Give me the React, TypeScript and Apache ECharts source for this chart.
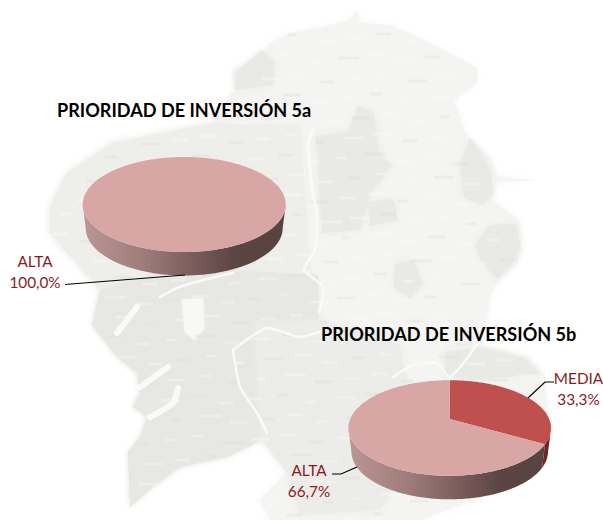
import React, { useEffect, useRef } from "react";
import * as echarts from "echarts";

const titleA = "PRIORIDAD DE INVERSIÓN 5a";
const titleB = "PRIORIDAD DE INVERSIÓN 5b";
const categoriesA = ["ALTA"];
const valuesA = [100.0];
const categoriesB = ["MEDIA", "ALTA"];
const valuesB = [33.3, 66.7];

const SANS = "Lato, 'Open Sans', sans-serif";
const TOP_A = "#d7a6a5";
const TOP_B = "#c0504d";
const TEXT = "#8b1a1c";

type Pt = [number, number];
type Lbl = { at: Pt; line: Pt[] };
type PieLayout = {
  cx: number; cy: number; rx: number; ry: number; depth: number; shrink: number; k: number;
  colors: string[]; sides: (string | null)[]; labels: Lbl[];
};

const layoutA: PieLayout = {
  cx: 184.2, cy: 204.5, rx: 101.5, ry: 47.5, depth: 23.5, shrink: 3, k: -0.19,
  colors: [TOP_A], sides: [null],
  labels: [{ at: [35, 271], line: [[65, 284.5], [185, 275]] }],
};
const layoutB: PieLayout = {
  cx: 449.7, cy: 428, rx: 101.3, ry: 47.8, depth: 23.5, shrink: 3, k: -0.19,
  colors: [TOP_B, TOP_A], sides: ["#6e2423", null],
  labels: [
    { at: [578.5, 388.5], line: [[554, 382], [545, 382], [528, 398]] },
    { at: [309, 480.5], line: [[332, 474], [341, 474], [357, 467]] },
  ],
};

function pieSeries(cats: string[], vals: number[], L: PieLayout) {
  const total = vals.reduce((a, b) => a + b, 0);
  const project = (deg: number) => {
    const a = (deg * Math.PI) / 180;
    const u = Math.sin(a);
    const v = -Math.cos(a);
    const d = 1 + L.k * v;
    return { x: (u * Math.sqrt(1 - L.k * L.k)) / d, y: (v + L.k) / d };
  };
  return {
    type: "custom",
    coordinateSystem: "none",
    silent: true,
    data: vals,
    renderItem: (params: any, api: any) => {
      const i = params.dataIndex;
      const val = api.value(0);
      const before = vals.slice(0, i).reduce((a, b) => a + b, 0);
      const from = (before / total) * 360;
      const to = ((before + val) / total) * 360;
      const top: Pt[] = [];
      const upper: Pt[] = [];
      const lower: Pt[] = [];
      const steps = Math.max(8, Math.round(to - from));
      for (let s = 0; s <= steps; s++) {
        const p = project(from + ((to - from) * s) / steps);
        const px = L.cx + p.x * L.rx;
        const py = L.cy + p.y * L.ry;
        top.push([px, py]);
        if (p.y >= 0) {
          upper.push([px, py]);
          lower.push([L.cx + p.x * (L.rx - L.shrink), py + L.depth]);
        }
      }
      if (val < total) top.push([L.cx, L.cy + L.k * L.ry]);
      const side = L.sides[i];
      const fillSide = side || {
        type: "linear",
        global: true,
        x: L.cx - L.rx,
        y: 0,
        x2: L.cx + L.rx,
        y2: 0,
        colorStops: [
          { offset: 0, color: "#ba9795" },
          { offset: 0.3, color: "#9e7c7a" },
          { offset: 0.55, color: "#7a5c5b" },
          { offset: 0.75, color: "#5a4542" },
          { offset: 1, color: "#574340" },
        ],
      };
      const children: any[] = [];
      if (upper.length > 1) {
        children.push({
          type: "polygon",
          shape: { points: upper.concat(lower.slice().reverse()) },
          style: { fill: fillSide },
        });
      }
      children.push({ type: "polygon", shape: { points: top }, style: { fill: L.colors[i] } });
      const lb = L.labels[i];
      children.push({
        type: "polyline",
        shape: { points: lb.line },
        style: { stroke: "#000", lineWidth: 1.2, fill: "none" },
      });
      children.push({
        type: "text",
        x: lb.at[0],
        y: lb.at[1],
        style: {
          text: `${cats[i]}\n${val.toFixed(1).replace(".", ",")}%`,
          fill: TEXT,
          font: `15.3px ${SANS}`,
          align: "center",
          verticalAlign: "middle",
          lineHeight: 21,
        },
      });
      return { type: "group", children };
    },
  };
}

const poly = (points: Pt[], fill: string, blur = 2) => ({
  type: "polygon",
  shape: { points },
  style: { fill, shadowBlur: blur, shadowColor: fill },
  silent: true,
});
const river = (points: Pt[], w = 2.6) => ({
  type: "polyline",
  shape: { points, smooth: 0.2 },
  style: { stroke: "#fbfbfa", lineWidth: w, fill: "none", lineCap: "round", opacity: 0.9 },
  silent: true,
});

const mapOutline: Pt[] = [
  [233, 80], [233, 70], [260, 57], [270, 43], [290, 33], [323, 27], [350, 20], [357, 10], [360, 23], [390, 25],
  [423, 40], [477, 68], [477, 83], [454, 100], [465, 133], [492, 160], [496, 177], [538, 180], [496, 182],
  [492, 200], [519, 220], [522, 243], [518, 263], [497, 282], [490, 297], [487, 317], [480, 345], [527, 357],
  [543, 373], [552, 440], [500, 490], [420, 520], [270, 520], [260, 500], [287, 473], [280, 457], [260, 440],
  [227, 457], [180, 467], [153, 487], [130, 507], [128, 452], [140, 437], [147, 417], [133, 407], [140, 393],
  [137, 373], [117, 357], [102, 338], [92, 325], [100, 290], [50, 233], [50, 207], [67, 173], [112, 143],
  [212, 123], [231, 93], [235, 92],
];
const westUpper: Pt[] = [
  [100, 290], [50, 233], [50, 207], [67, 173], [112, 143], [212, 123], [300, 125], [310, 270], [200, 272],
];
const swPatch: Pt[] = [
  [100, 290], [160, 272], [233, 270], [318, 275], [319, 320], [255, 325], [262, 440], [227, 457], [180, 467],
  [153, 487], [130, 507], [128, 452], [140, 437], [147, 417], [133, 407], [140, 393], [137, 373], [117, 357],
  [102, 338], [92, 325],
];
const centerSouth: Pt[] = [[255, 325], [320, 320], [400, 345], [420, 450], [380, 510], [300, 515], [287, 473], [262, 440]];
const patches: Pt[][] = [
  [[236, 90], [236, 72], [262, 50], [275, 62], [273, 85], [250, 88]],
  [[316, 136], [348, 132], [358, 106], [373, 112], [380, 155], [392, 165], [370, 195], [360, 230], [322, 233]],
  [[464, 198], [460, 165], [470, 138], [480, 152], [490, 167], [493, 193], [483, 205]],
  [[475, 245], [490, 225], [516, 224], [520, 245], [516, 260], [497, 279], [482, 262]],
  [[395, 264], [413, 260], [423, 284], [410, 298], [394, 288]],
  [[445, 352], [480, 348], [524, 358], [540, 374], [470, 380], [445, 376]],
  [[368, 202], [393, 199], [398, 220], [370, 226]],
];
const rivers: Pt[][] = [
  [[313, 130], [308, 143], [312, 187], [317, 217], [315, 250], [304, 270], [323, 287], [319, 312]],
  [[233, 350], [267, 328], [300, 337], [330, 328]],
  [[233, 350], [240, 387], [257, 413], [267, 433]],
  [[160, 297], [177, 288], [203, 280], [233, 273]],
  [[393, 377], [413, 365], [437, 363], [450, 377], [477, 343], [472, 325]],
];
const inlets: Pt[][] = [
  [[168, 367], [140, 387]],
  [[178, 388], [173, 403], [150, 417]],
  [[137, 307], [117, 333]],
];
const paleBlock: Pt[] = [[182, 300], [203, 298], [204, 328], [195, 340], [185, 332]];

// map texture: the small pale label smudges of the background image
const inside = (x: number, y: number) => {
  let c = false;
  for (let i = 0, j = mapOutline.length - 1; i < mapOutline.length; j = i++) {
    const [xi, yi] = mapOutline[i];
    const [xj, yj] = mapOutline[j];
    if (yi > y !== yj > y && x < ((xj - xi) * (y - yi)) / (yj - yi) + xi) c = !c;
  }
  return c;
};
const smudges: any[] = [];
for (let row = 0; row < 26; row++) {
  for (let col = 0; col < 18; col++) {
    const x = 45 + col * 29 + ((row * 11) % 19);
    const y = 14 + row * 20 + ((col * 7) % 11);
    if (!inside(x, y) || !inside(x + 16, y)) continue;
    const len = 9 + ((row * 3 + col * 11) % 13);
    const dark = (row + col) % 3 === 0;
    smudges.push({
      type: "line",
      shape: { x1: x, y1: y, x2: x + len, y2: y },
      style: { stroke: dark ? "#dededb" : "#fafaf9", lineWidth: 3, opacity: dark ? 0.35 : 0.4 },
      silent: true,
    });
  }
}

export default function App() {
  const ref = useRef<HTMLDivElement>(null);
  useEffect(() => {
    const chart = echarts.init(ref.current!, undefined, { renderer: "svg" });
    const titleStyle = { fontFamily: SANS, fontWeight: "bold", fontSize: 18.1, color: "#000" };
    chart.setOption({
      animation: false,
      backgroundColor: "#ffffff",
      title: [
        { text: titleA, left: 57, top: 101, textStyle: titleStyle, padding: 0 },
        { text: titleB, left: 321, top: 325, textStyle: titleStyle, padding: 0 },
      ],
      graphic: [
        poly(mapOutline, "#f4f4f2", 6),
        poly(westUpper, "#eeeeeb", 8),
        poly(swPatch, "#e7e7e4", 5),
        poly(centerSouth, "#ececea", 8),
        ...patches.map((p) => poly(p, "#e9e9e6", 7)),
        poly(paleBlock, "#f8f8f6", 3),
        ...smudges,
        ...rivers.map((r) => river(r)),
        ...inlets.map((r) => river(r, 6)),
      ],
      series: [pieSeries(categoriesA, valuesA, layoutA), pieSeries(categoriesB, valuesB, layoutB)],
    });
    return () => chart.dispose();
  }, []);
  return <div ref={ref} style={{ position: "absolute", left: 0, top: 0, width: 603, height: 520 }} />;
}
